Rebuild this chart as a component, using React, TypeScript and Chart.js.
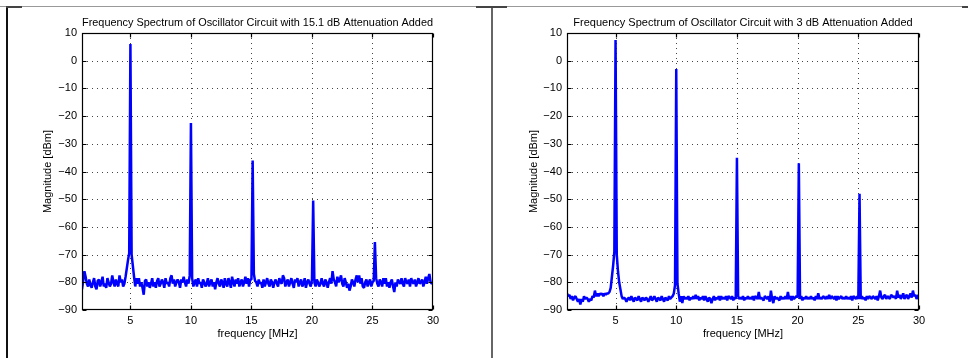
import { useEffect, useRef } from "react";
import { Chart, registerables } from "chart.js";

Chart.register(...registerables);

// frequency grid [MHz]
const freqMHz = [
  1.0, 1.1, 1.2, 1.3, 1.4, 1.5, 1.6, 1.7, 1.8, 1.9,
  2.0, 2.1, 2.2, 2.3, 2.4, 2.5, 2.6, 2.7, 2.8, 2.9,
  3.0, 3.1, 3.2, 3.3, 3.4, 3.5, 3.6, 3.7, 3.8, 3.9,
  4.0, 4.1, 4.2, 4.3, 4.4, 4.5, 4.6, 4.7, 4.8, 4.9,
  5.0, 5.1, 5.2, 5.3, 5.4, 5.5, 5.6, 5.7, 5.8, 5.9,
  6.0, 6.1, 6.2, 6.3, 6.4, 6.5, 6.6, 6.7, 6.8, 6.9,
  7.0, 7.1, 7.2, 7.3, 7.4, 7.5, 7.6, 7.7, 7.8, 7.9,
  8.0, 8.1, 8.2, 8.3, 8.4, 8.5, 8.6, 8.7, 8.8, 8.9,
  9.0, 9.1, 9.2, 9.3, 9.4, 9.5, 9.6, 9.7, 9.8, 9.9,
  10.0, 10.1, 10.2, 10.3, 10.4, 10.5, 10.6, 10.7, 10.8, 10.9,
  11.0, 11.1, 11.2, 11.3, 11.4, 11.5, 11.6, 11.7, 11.8, 11.9,
  12.0, 12.1, 12.2, 12.3, 12.4, 12.5, 12.6, 12.7, 12.8, 12.9,
  13.0, 13.1, 13.2, 13.3, 13.4, 13.5, 13.6, 13.7, 13.8, 13.9,
  14.0, 14.1, 14.2, 14.3, 14.4, 14.5, 14.6, 14.7, 14.8, 14.9,
  15.0, 15.1, 15.2, 15.3, 15.4, 15.5, 15.6, 15.7, 15.8, 15.9,
  16.0, 16.1, 16.2, 16.3, 16.4, 16.5, 16.6, 16.7, 16.8, 16.9,
  17.0, 17.1, 17.2, 17.3, 17.4, 17.5, 17.6, 17.7, 17.8, 17.9,
  18.0, 18.1, 18.2, 18.3, 18.4, 18.5, 18.6, 18.7, 18.8, 18.9,
  19.0, 19.1, 19.2, 19.3, 19.4, 19.5, 19.6, 19.7, 19.8, 19.9,
  20.0, 20.1, 20.2, 20.3, 20.4, 20.5, 20.6, 20.7, 20.8, 20.9,
  21.0, 21.1, 21.2, 21.3, 21.4, 21.5, 21.6, 21.7, 21.8, 21.9,
  22.0, 22.1, 22.2, 22.3, 22.4, 22.5, 22.6, 22.7, 22.8, 22.9,
  23.0, 23.1, 23.2, 23.3, 23.4, 23.5, 23.6, 23.7, 23.8, 23.9,
  24.0, 24.1, 24.2, 24.3, 24.4, 24.5, 24.6, 24.7, 24.8, 24.9,
  25.0, 25.1, 25.2, 25.3, 25.4, 25.5, 25.6, 25.7, 25.8, 25.9,
  26.0, 26.1, 26.2, 26.3, 26.4, 26.5, 26.6, 26.7, 26.8, 26.9,
  27.0, 27.1, 27.2, 27.3, 27.4, 27.5, 27.6, 27.7, 27.8, 27.9,
  28.0, 28.1, 28.2, 28.3, 28.4, 28.5, 28.6, 28.7, 28.8, 28.9,
  29.0, 29.1, 29.2, 29.3, 29.4, 29.5, 29.6, 29.7, 29.8, 29.9,
  30.0,
];

// magnitude [dBm], 15.1 dB attenuation
const magAtt15 = [
  -82.5, -79.5, -76, -78, -80.5, -81.5, -79, -81, -82, -80,
  -78.5, -81.5, -82.5, -79.5, -79, -81.5, -80, -78, -81.5, -80.5,
  -82, -78.5, -80, -81.5, -80.5, -77.5, -80, -81.5, -79, -80.5,
  -81.5, -77.5, -80, -79, -81.5, -80.5, -78, -75, -72, -69.5,
  6, -70, -74, -78, -81.5, -78.5, -80.5, -78.5, -81.5, -80,
  -82, -84.5, -79.5, -79, -81.5, -80, -82, -80.5, -78.5, -81.5,
  -80, -82, -79.5, -78.5, -81.5, -80.5, -79, -80, -82, -78.5,
  -80.5, -80, -81.5, -78.5, -77.5, -80.5, -79, -81.5, -80, -79,
  -80, -82, -79, -80, -78, -80, -81.5, -79, -80.5, -77.5,
  -22.5, -78.5, -81.5, -80, -79, -81.5, -78.5, -80.5, -80, -82,
  -79, -80, -81.5, -80.5, -78.5, -81.5, -80, -79, -81.5, -80,
  -82.5, -80, -78.5, -80.5, -81.5, -79, -80, -82, -78.5, -80.5,
  -81.5, -78.5, -80, -82, -78, -80, -81.5, -79, -80.5, -78.5,
  -81.5, -80, -79, -81.5, -80, -78, -80.5, -78.5, -81.5, -79,
  -79, -36, -77, -79.5, -80, -81.5, -79, -80.5, -80, -82,
  -79, -81.5, -80, -78.5, -80.5, -81.5, -79, -80, -82, -80,
  -79, -80.5, -81.5, -78.5, -80, -80.5, -77.5, -78.5, -81.5, -80,
  -79, -81.5, -80, -78.5, -80.5, -82, -79, -80, -78.5, -81.5,
  -80, -79, -81.5, -80.5, -78.5, -82, -80, -79, -80.5, -81.5,
  -79, -50.5, -80, -81.5, -79, -80, -81.5, -80.5, -78.5, -80.5,
  -81.5, -79, -80, -82, -80, -78.5, -80.5, -76, -79, -80,
  -81.5, -78, -80, -79, -77.5, -80.5, -81.5, -78.5, -80, -82,
  -80.5, -83, -81.5, -79, -80, -81.5, -79, -77.5, -80, -77.5,
  -80.5, -78.5, -81.5, -82, -80, -79, -81.5, -80, -79, -81.5,
  -80, -79.5, -65.5, -78.5, -80.5, -81.5, -79, -80, -81.5, -78.5,
  -80.5, -78.5, -81.5, -80, -82, -80, -79, -81.5, -83.5, -80,
  -81.5, -79, -80, -80.5, -78.5, -80.5, -81.5, -78.5, -80, -80.5,
  -79, -81.5, -78.5, -80, -80.5, -79, -81.5, -80, -78.5, -80.5,
  -80, -79, -81.5, -80, -78, -80.5, -78.5, -77, -80, -80.5,
  -80,
];

// magnitude [dBm], 3 dB attenuation
const magAtt3 = [
  -84, -85, -84.5, -86, -85, -86.5, -85.5, -85, -86, -87,
  -86, -88, -86, -87, -85, -86, -85.5, -86, -87, -86,
  -86.5, -85, -85.5, -83, -85, -84, -85, -84, -84.5, -84,
  -85, -84, -84.5, -84, -84, -83.5, -82, -78, -74, -69,
  7.5, -70, -76, -80, -82.5, -85, -86, -85.5, -86, -87,
  -86, -85.5, -86.5, -85, -86, -87, -85.5, -86, -86.5, -85,
  -86, -87, -85.5, -86, -86.5, -85.5, -86, -87, -86, -85,
  -86.5, -86, -85, -86, -87, -85.5, -86, -86.5, -85, -86,
  -87, -85.5, -86, -86.5, -85, -86, -85.5, -85, -84, -81,
  -3, -80.5, -84, -87, -85, -87.5, -85, -86, -85.5, -86,
  -85, -86.5, -85.5, -86, -85, -86, -84.5, -86, -85, -86.5,
  -85.5, -86, -85, -86.5, -85, -86, -87, -85.5, -86, -87.5,
  -86, -85, -86.5, -85.5, -86, -85, -86.5, -85, -86, -85.5,
  -86, -85, -86.5, -85, -85.5, -86, -85, -86.5, -85.5, -86,
  -35, -85, -86, -85.5, -86, -85, -86.5, -85.5, -86, -85,
  -86, -85.5, -86, -85, -86.5, -85, -85.5, -86, -83.5, -86,
  -85.5, -86, -86.5, -85, -85.5, -86, -85, -87, -83, -86,
  -87.5, -85, -86, -85.5, -86, -86.5, -85, -86, -85.5, -86,
  -85, -86, -83.5, -86, -85, -86.5, -85, -86, -85.5, -85,
  -85.5, -37, -86, -85, -86.5, -85.5, -86, -85, -86, -85.5,
  -86, -85, -86, -85.5, -86.5, -85, -86, -84, -86, -85.5,
  -86, -85, -85.5, -86, -85, -86, -84.5, -86, -85, -85.5,
  -86, -85, -86.5, -85, -86, -85.5, -85, -86, -85.5, -86,
  -85, -86, -85.5, -86, -85, -86.5, -85, -85.5, -86, -85,
  -86, -48, -86, -85, -86, -85.5, -86.5, -85, -86, -85,
  -85.5, -86, -85, -85.5, -86, -85, -86.5, -85, -83, -85.5,
  -86, -85, -84.5, -86, -85, -85.5, -86, -84.5, -85, -85.5,
  -85, -86, -83, -85.5, -84.5, -86, -85, -84, -86, -85,
  -84.5, -86, -85, -84, -85.5, -83, -85, -84.5, -86, -85,
  -84.5,
];

const xTicks = [5, 10, 15, 20, 25, 30];
const xTickLabels = ["5", "10", "15", "20", "25", "30"];
const yTicks = [-90, -80, -70, -60, -50, -40, -30, -20, -10, 0, 10];
const yTickLabels = ["\u221290", "\u221280", "\u221270", "\u221260", "\u221250", "\u221240", "\u221230", "\u221220", "\u221210", "0", "10"];
const titleLeft = "Frequency Spectrum of Oscillator Circuit with 15.1 dB Attenuation Added";
const titleRight = "Frequency Spectrum of Oscillator Circuit with 3 dB Attenuation Added";
const xLabel = "frequency [MHz]";
const yLabel = "Magnitude [dBm]";

const FONT = '"Liberation Sans", Arial, Helvetica, sans-serif';
const W = 484;
const H = 358;
const PLOT_BOTTOM = 310;

const matlabAxes = {
  id: "matlabAxes",
  beforeDatasetsDraw(chart: any) {
    const { ctx, chartArea, scales } = chart;
    const { left, right, top, bottom } = chartArea;
    ctx.save();
    ctx.strokeStyle = "#444";
    ctx.lineWidth = 1;
    ctx.setLineDash([1, 4]);
    ctx.beginPath();
    for (const v of xTicks) {
      const px = Math.round(scales.x.getPixelForValue(v)) + 0.5;
      if (px <= left + 1 || px >= right - 1) continue;
      ctx.moveTo(px, top);
      ctx.lineTo(px, bottom);
    }
    for (const v of yTicks) {
      const py = Math.round(scales.y.getPixelForValue(v)) + 0.5;
      if (py <= top + 1 || py >= bottom - 1) continue;
      ctx.moveTo(left, py);
      ctx.lineTo(right, py);
    }
    ctx.stroke();
    ctx.restore();
  },
  afterDatasetsDraw(chart: any) {
    const { ctx, chartArea, scales } = chart;
    const l = Math.round(chartArea.left) + 0.5;
    const r = Math.round(chartArea.right) - 0.5;
    const t = Math.round(chartArea.top) + 0.5;
    const b = Math.round(chartArea.bottom) - 0.5;
    ctx.save();
    ctx.strokeStyle = "#000";
    ctx.lineWidth = 1.2;
    ctx.setLineDash([]);
    ctx.strokeRect(l, t, r - l, b - t);
    ctx.beginPath();
    const tl = 4;
    for (const v of xTicks) {
      const px = Math.round(scales.x.getPixelForValue(v)) + 0.5;
      ctx.moveTo(px, b);
      ctx.lineTo(px, b - tl);
      ctx.moveTo(px, t);
      ctx.lineTo(px, t + tl);
    }
    for (const v of yTicks) {
      const py = Math.round(scales.y.getPixelForValue(v)) + 0.5;
      ctx.moveTo(l, py);
      ctx.lineTo(l + tl, py);
      ctx.moveTo(r, py);
      ctx.lineTo(r - tl, py);
    }
    ctx.stroke();
    ctx.restore();
  },
};

type Props = {
  mags: number[];
  title: string;
  plotLeft: number;
  plotRight: number;
  ylabelX: number;
  offsetX: number;
};

function SpectrumChart({ mags, title, plotLeft, plotRight, ylabelX, offsetX }: Props) {
  const ref = useRef<HTMLCanvasElement>(null);
  useEffect(() => {
    const font = { family: FONT, size: 11, weight: "normal" as const, lineHeight: 1.2 };
    const chart = new Chart(ref.current!, {
      type: "line",
      data: {
        datasets: [
          {
            data: freqMHz.map((f, i) => ({ x: f, y: mags[i] })),
            borderColor: "#0000ff",
            borderWidth: 2.5,
            pointRadius: 0,
            tension: 0,
            borderJoinStyle: "bevel",
            fill: false,
          },
        ],
      },
      options: {
        responsive: false,
        animation: false,
        devicePixelRatio: 1,
        layout: { padding: { left: 0, right: W - plotRight, top: 0, bottom: 0 } },
        plugins: {
          legend: { display: false },
          tooltip: { enabled: false },
          title: {
            display: true,
            text: title,
            color: "#000",
            font,
            fullSize: false,
            padding: { top: 16.2, bottom: 3.6 },
          },
        },
        scales: {
          x: {
            type: "linear",
            min: 1,
            max: 30,
            afterBuildTicks: (s: any) => {
              s.ticks = xTicks.map((v) => ({ value: v }));
            },
            afterFit: (s: any) => {
              s.height = H - PLOT_BOTTOM;
            },
            ticks: {
              autoSkip: false,
              maxRotation: 0,
              padding: 4,
              color: "#000",
              font,
              callback: (v: any) => xTickLabels[xTicks.indexOf(Number(v))] ?? "",
            },
            grid: { display: false, drawTicks: false },
            border: { display: false },
            title: {
              display: true,
              text: xLabel,
              color: "#000",
              font,
              padding: { top: 0, bottom: 17.4 },
            },
          },
          y: {
            type: "linear",
            min: -90,
            max: 10,
            afterBuildTicks: (s: any) => {
              s.ticks = yTicks.map((v) => ({ value: v }));
            },
            afterFit: (s: any) => {
              s.width = plotLeft;
            },
            ticks: {
              autoSkip: false,
              padding: 5,
              color: "#000",
              font,
              callback: (v: any) => yTickLabels[yTicks.indexOf(Number(v))] ?? "",
            },
            grid: { display: false, drawTicks: false },
            border: { display: false },
            title: {
              display: true,
              text: yLabel,
              color: "#000",
              font,
              padding: { top: ylabelX - 6.6, bottom: 0 },
            },
          },
        },
      },
      plugins: [matlabAxes],
    } as any);
    return () => chart.destroy();
  }, []);
  return (
    <canvas
      ref={ref}
      width={W}
      height={H}
      style={{ position: "absolute", left: offsetX, top: 0, width: W, height: H }}
    />
  );
}

export default function App() {
  const line = (style: any) => <div style={{ position: "absolute", ...style }} />;
  return (
    <div
      style={{
        position: "fixed",
        left: 0,
        top: 0,
        width: 968,
        height: 358,
        background: "#fff",
        overflow: "hidden",
      }}
    >
      <SpectrumChart mags={magAtt15} title={titleLeft} plotLeft={82} plotRight={433} ylabelX={48} offsetX={0} />
      <SpectrumChart mags={magAtt3} title={titleRight} plotLeft={83} plotRight={435} ylabelX={50} offsetX={484} />
      {line({ left: 0, top: 6, width: 968, height: 1, background: "#999" })}
      {line({ left: 6, top: 6, width: 2, height: 352, background: "#111" })}
      {line({ left: 491, top: 6, width: 2, height: 352, background: "#666" })}
      {line({ left: 6, top: 6, width: 16, height: 2, background: "#444" })}
      {line({ left: 476, top: 6, width: 31, height: 2, background: "#444" })}
      {line({ left: 962, top: 6, width: 6, height: 2, background: "#444" })}
    </div>
  );
}
